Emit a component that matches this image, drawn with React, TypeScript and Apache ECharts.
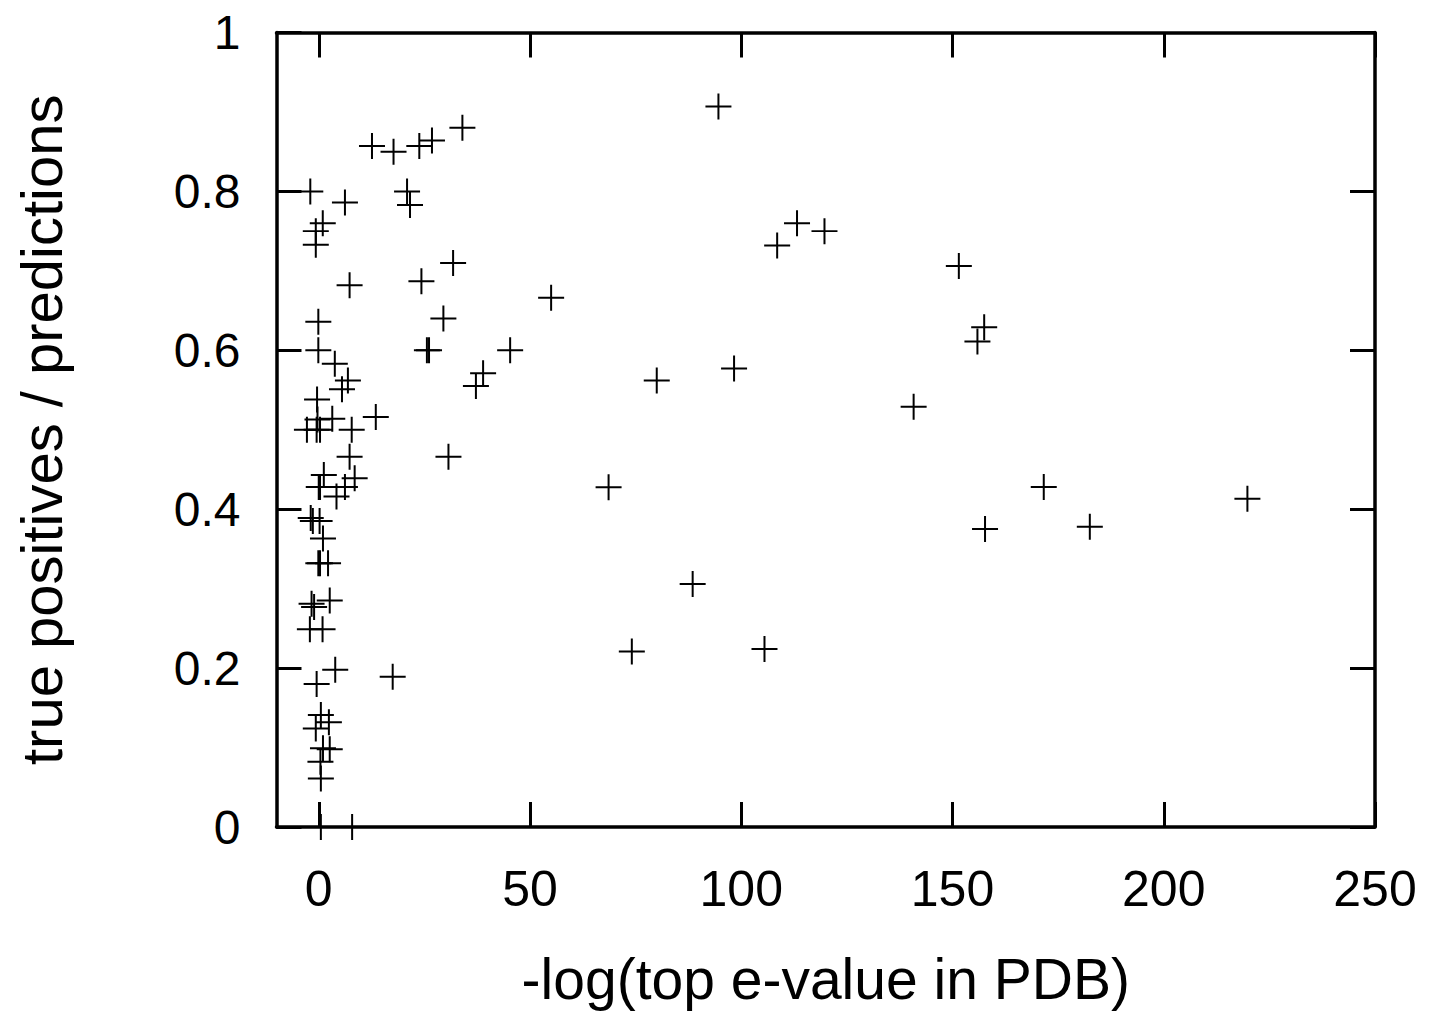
import React, { useEffect, useRef } from "react";
import * as echarts from "echarts";

const xValues = [
  12.6, 17.7, 23.8, 26.8, 34.0, -2.0, 6.2, 20.9, 21.6, 0.95, -0.7, -0.7, 7.3, 24.3, 31.8, 55.0,
  94.6, 113.2, 119.7, 108.5, 80.0, 98.3, 68.6, 88.5, 74.1, 105.5,
  151.5, 157.5, 155.9, 140.8, 157.7, 171.6, 182.5, 219.8,
  -0.1, 29.5, -0.1, 25.6, 26.1, 45.3, 3.8, 38.9, 37.2, 6.9, 5.5, -0.4, -0.3, 3.2, 13.5,
  -2.8, -0.5, 0.3, 7.8, 7.3, 30.7, 1.2, 0.0, 0.3, 8.5, 6.2, 4.2, -1.9, -1.4, 0.2, 1.0,
  -0.1, 0.3, 2.2,
  -1.7, -1.1, 2.6, -2.1, 0.9, 3.9, -0.5, 17.5, 0.5, 2.4, -0.7, 1.0, 2.6, 0.4, 0.5, 0.5, 7.9,
];
const yValues = [
  0.857, 0.85, 0.857, 0.864, 0.88, 0.8, 0.786, 0.8, 0.783, 0.76, 0.75, 0.733, 0.682, 0.687, 0.71, 0.666,
  0.907, 0.76, 0.75, 0.732, 0.562, 0.577, 0.4275, 0.306, 0.221, 0.224,
  0.706, 0.629, 0.611, 0.529, 0.375, 0.428, 0.378, 0.413,
  0.636, 0.64, 0.6, 0.6, 0.6, 0.6, 0.583, 0.571, 0.555, 0.562, 0.551, 0.538, 0.513, 0.514, 0.516,
  0.5, 0.5, 0.5, 0.5, 0.466, 0.466, 0.443, 0.428, 0.428, 0.439, 0.428, 0.416, 0.389, 0.385, 0.385, 0.363,
  0.332, 0.332, 0.332,
  0.281, 0.277, 0.285, 0.249, 0.249, 0.198, 0.18, 0.189, 0.141, 0.132, 0.124, 0.099, 0.098, 0.082, 0.061, 0.0, 0.0,
];
const xTicks = [0, 50, 100, 150, 200, 250];
const yTicks = [0, 0.2, 0.4, 0.6, 0.8, 1];
const xTitle = "-log(top e-value in PDB)";
const yTitle = "true positives / predictions";

const plus = "path://M12,0h2v12h12v2h-12v12h-2v-12h-12v-2h12z";
const FONT = "Liberation Sans";

export default function App() {
  const ref = useRef<HTMLDivElement>(null);
  useEffect(() => {
    if (!ref.current) return;
    const chart = echarts.init(ref.current, null, { renderer: "svg" });
    const points = xValues.map((x, i) => [x, yValues[i]]);
    const lineStyle = { color: "#000", width: 3.5 };
    const tickStyle = { color: "#000", width: 3 };
    chart.setOption({
      animation: false,
      backgroundColor: "#fff",
      grid: { left: 276.5, right: 61, top: 32.5, bottom: 178, containLabel: false },
      xAxis: [
        {
          type: "value",
          position: "bottom",
          min: -10,
          max: 250,
          axisLine: { show: true, onZero: false, lineStyle },
          axisTick: { show: true, inside: true, length: 25, lineStyle: tickStyle, customValues: xTicks },
          splitLine: { show: false },
          axisLabel: {
            show: true,
            color: "#000",
            fontFamily: FONT,
            fontSize: 50,
            margin: 37,
            customValues: xTicks,
            formatter: (v: number) => String(v),
          },
          name: xTitle,
          nameLocation: "middle",
          nameGap: 123,
          nameTextStyle: { color: "#000", fontFamily: FONT, fontSize: 57, verticalAlign: "top" },
        },
        {
          type: "value",
          position: "top",
          min: -10,
          max: 250,
          axisLine: { show: true, onZero: false, lineStyle },
          axisTick: { show: true, inside: true, length: 25, lineStyle: tickStyle, customValues: xTicks },
          splitLine: { show: false },
          axisLabel: { show: false },
        },
      ],
      yAxis: [
        {
          type: "value",
          position: "left",
          min: 0,
          max: 1,
          interval: 0.2,
          axisLine: { show: true, onZero: false, lineStyle },
          axisTick: { show: true, inside: true, length: 25, lineStyle: tickStyle },
          splitLine: { show: false },
          axisLabel: {
            show: true,
            color: "#000",
            fontFamily: FONT,
            fontSize: 48,
            margin: 36,
            customValues: yTicks,
            formatter: (v: number) => String(Math.round(v * 10) / 10),
          },
          name: yTitle,
          nameLocation: "middle",
          nameGap: 206,
          nameTextStyle: { color: "#000", fontFamily: FONT, fontSize: 58 },
        },
        {
          type: "value",
          position: "right",
          min: 0,
          max: 1,
          interval: 0.2,
          axisLine: { show: true, onZero: false, lineStyle },
          axisTick: { show: true, inside: true, length: 25, lineStyle: tickStyle },
          splitLine: { show: false },
          axisLabel: { show: false },
        },
      ],
      series: [
        {
          type: "scatter",
          data: points,
          symbol: plus,
          symbolSize: 26,
          clip: false,
          itemStyle: { color: "#000", opacity: 1 },
          emphasis: { disabled: true },
        },
      ],
    });
    return () => chart.dispose();
  }, []);
  return (
    <div
      ref={ref}
      style={{ position: "absolute", left: 0, top: 0, width: 1436, height: 1012, background: "#fff" }}
    />
  );
}
